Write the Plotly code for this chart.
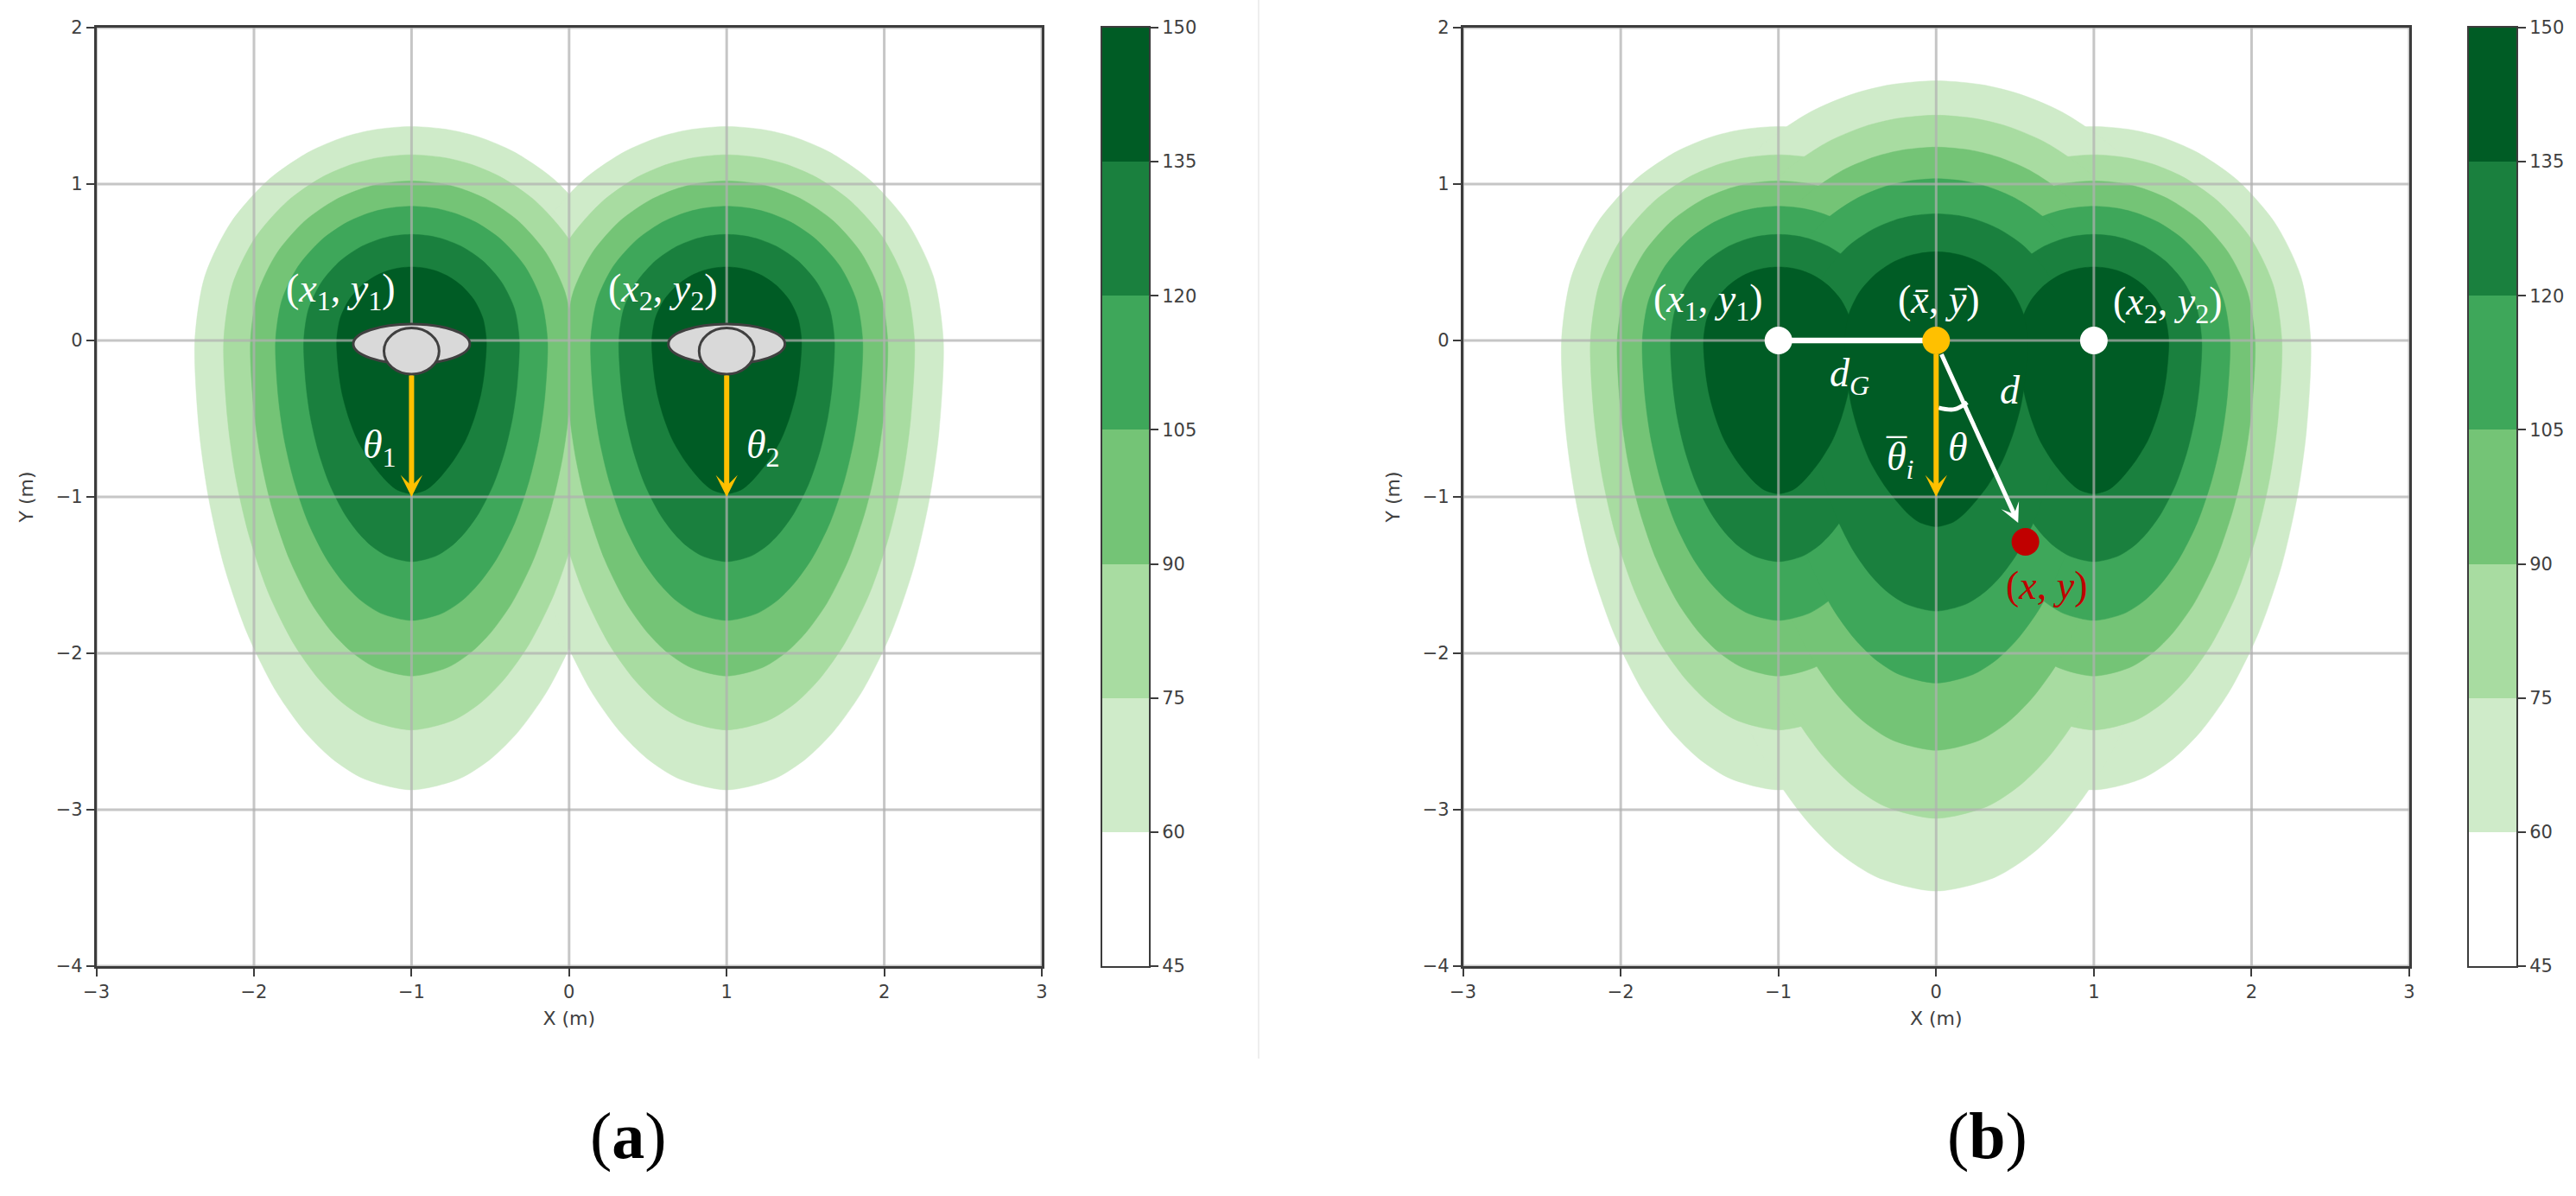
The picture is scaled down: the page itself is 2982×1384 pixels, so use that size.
import plotly.graph_objects as go

W, H = 2982, 1384

# colour bands
LEVELS = [45, 60, 75, 90, 105, 120, 135]
BAND_STEP = [15, 15, 15, 15, 15, 15, 15]
BAND_COLORS = ["#ffffff", "#cfebc9", "#a8dca1", "#74c476", "#3ea75a", "#1a803e", "#005c25"]
CBAR_TICKS = [45, 60, 75, 90, 105, 120, 135, 150]
X_TICKS = [-3, -2, -1, 0, 1, 2, 3]
Y_TICKS = [-4, -3, -2, -1, 0, 1, 2]

# outline of a side lobe: y and half width around the lobe axis
S60_Y = [1.368, 1.347, 1.300, 1.204, 1.026, .752, .410, 0, -.575, -1.006, -1.437, -1.867, -2.241, -2.500, -2.672, -2.801, -2.873]
S60_D = [0, .238, .429, .653, .909, 1.148, 1.312, 1.375, 1.348, 1.288, 1.191, 1.045, .861, .678, .506, .305, 0]
S75_Y = [1.187, 1.169, 1.128, 1.045, .890, .653, .356, 0, -.498, -.872, -1.245, -1.619, -1.942, -2.166, -2.316, -2.428, -2.49]
S75_D = [0, .206, .372, .566, .788, .995, 1.137, 1.192, 1.168, 1.117, 1.032, .906, .746, .588, .439, .265, 0]
S90_Y = [1.02, 1.005, .969, .898, .765, .561, .306, 0, -.429, -.751, -1.073, -1.394, -1.673, -1.866, -1.995, -2.091, -2.145]
S90_D = [0, .177, .319, .485, .676, .853, .975, 1.022, 1.002, .958, .885, .777, .640, .504, .376, .227, 0]
S105_Y = [.858, .845, .815, .755, .644, .472, .257, 0, -.358, -.627, -.895, -1.164, -1.396, -1.557, -1.665, -1.745, -1.79]
S105_D = [0, .149, .269, .410, .570, .721, .823, .863, .846, .809, .747, .656, .540, .425, .318, .192, 0]
S120_Y = [.678, .668, .644, .597, .509, .373, .203, 0, -.283, -.495, -.707, -.919, -1.103, -1.230, -1.315, -1.379, -1.414]
S120_D = [0, .118, .213, .325, .452, .571, .653, .684, .670, .641, .592, .520, .428, .337, .252, .152, 0]
S135_Y = [.47, .463, .447, .414, .353, .259, .141, 0, -.196, -.343, -.49, -.637, -.764, -.853, -.911, -.956, -.98]
S135_D = [0, .082, .148, .226, .314, .397, .453, .475, .463, .440, .400, .343, .268, .200, .147, .090, 0]

# outline of the centre lobe in panel (b)
C60_Y = [1.66, 1.635, 1.577, 1.461, 1.245, .913, .498, 0, -.704, -1.232, -1.76, -2.288, -2.746, -3.062, -3.274, -3.432, -3.52]
C60_D = [0, .290, .524, .797, 1.109, 1.401, 1.601, 1.678, 1.644, 1.572, 1.453, 1.275, 1.050, .827, .618, .373, 0]
C75_Y = [1.44, 1.418, 1.368, 1.267, 1.08, .792, .432, 0, -.611, -1.069, -1.528, -1.986, -2.383, -2.658, -2.841, -2.979, -3.055]
C75_D = [0, .252, .454, .691, .961, 1.214, 1.387, 1.454, 1.425, 1.362, 1.259, 1.105, .910, .717, .535, .323, 0]
C90_Y = [1.236, 1.217, 1.174, 1.088, .927, .680, .371, 0, -.524, -.917, -1.31, -1.703, -2.044, -2.279, -2.437, -2.555, -2.62]
C90_D = [0, .216, .389, .592, .824, 1.041, 1.190, 1.247, 1.222, 1.168, 1.080, .948, .781, .615, .459, .277, 0]
C105_Y = [1.034, 1.018, .982, .910, .776, .569, .310, 0, -.438, -.767, -1.095, -1.424, -1.708, -1.905, -2.037, -2.135, -2.19]
C105_D = [0, .182, .329, .500, .696, .879, 1.005, 1.053, 1.032, .987, .912, .800, .659, .519, .388, .234, 0]
C120_Y = [.81, .798, .770, .713, .608, .446, .243, 0, -.346, -.606, -.865, -1.125, -1.349, -1.505, -1.609, -1.687, -1.73]
C120_D = [0, .144, .260, .396, .551, .696, .796, .834, .817, .781, .722, .634, .522, .411, .307, .185, 0]
C135_Y = [.567, .558, .539, .499, .425, .312, .170, 0, -.238, -.417, -.595, -.774, -.928, -1.035, -1.107, -1.160, -1.19]
C135_D = [0, .100, .181, .276, .383, .484, .553, .58, .565, .537, .488, .418, .327, .244, .179, .110, 0]

SIDE = [(S60_Y, S60_D), (S75_Y, S75_D), (S90_Y, S90_D), (S105_Y, S105_D), (S120_Y, S120_D), (S135_Y, S135_D)]
CENTER = [(C60_Y, C60_D), (C75_Y, C75_D), (C90_Y, C90_D), (C105_Y, C105_D), (C120_Y, C120_D), (C135_Y, C135_D)]
SOURCE_X = [-1, 1]
CENTER_X = 0

# panel (b) points
GROUP_LINE_X = [-1, 0]
GROUP_LINE_Y = [0, 0]
ARC_X = [.016, .115, .197]
ARC_Y = [-.43, -.44, -.396]
WHITE_PTS_X = [-1, 1]
WHITE_PTS_Y = [0, 0]
MID_PT = (0, 0)
TARGET_PT = (.566, -1.287)

GREY = "#3c3c3c"
ORANGE = "#ffc000"
RED = "#c00000"


def px_x(p):
    return p / W


def px_y(p):
    return 1 - p / H


fig = go.Figure()


def lobe(cx, yv, dv, color, ax):
    xs = [cx + d for d in dv] + [cx - d for d in reversed(dv[:-1])]
    ys = list(yv) + list(reversed(yv[:-1]))
    fig.add_trace(go.Scatter(x=xs, y=ys, mode="lines", fill="toself", fillcolor=color,
                             line=dict(color=color, width=0.5, shape="spline", smoothing=0.8),
                             xaxis=ax[0], yaxis=ax[1], hoverinfo="skip", showlegend=False))


AX_A = ("x", "y")
AX_B = ("x2", "y2")
for i, color in enumerate(BAND_COLORS[1:]):
    for cx in SOURCE_X:
        lobe(cx, SIDE[i][0], SIDE[i][1], color, AX_A)
    for cx in SOURCE_X:
        lobe(cx, SIDE[i][0], SIDE[i][1], color, AX_B)
    lobe(CENTER_X, CENTER[i][0], CENTER[i][1], color, AX_B)

# grid above the filled bands, under the markers
GRID = "rgba(176,176,176,0.72)"
for ax in (AX_A, AX_B):
    for v in X_TICKS:
        fig.add_trace(go.Scatter(x=[v, v], y=[Y_TICKS[0], Y_TICKS[-1]], mode="lines",
                                 line=dict(color=GRID, width=3), xaxis=ax[0], yaxis=ax[1],
                                 hoverinfo="skip", showlegend=False))
    for v in Y_TICKS:
        fig.add_trace(go.Scatter(x=[X_TICKS[0], X_TICKS[-1]], y=[v, v], mode="lines",
                                 line=dict(color=GRID, width=3.2), xaxis=ax[0], yaxis=ax[1],
                                 hoverinfo="skip", showlegend=False))

# panel (b) lines and markers
fig.add_trace(go.Scatter(x=GROUP_LINE_X, y=GROUP_LINE_Y, mode="lines", line=dict(color="white", width=6.5),
                         xaxis="x2", yaxis="y2", hoverinfo="skip", showlegend=False))
fig.add_trace(go.Scatter(x=ARC_X, y=ARC_Y, mode="lines", line=dict(color="white", width=5, shape="spline"),
                         xaxis="x2", yaxis="y2", hoverinfo="skip", showlegend=False))
fig.add_trace(go.Scatter(x=WHITE_PTS_X, y=WHITE_PTS_Y, mode="markers", marker=dict(color="white", size=32),
                         xaxis="x2", yaxis="y2", hoverinfo="skip", showlegend=False))
fig.add_trace(go.Scatter(x=[TARGET_PT[0]], y=[TARGET_PT[1]], mode="markers", marker=dict(color=RED, size=32),
                         xaxis="x2", yaxis="y2", hoverinfo="skip", showlegend=False))

# colour bars
for xa, ya in (("x3", "y3"), ("x4", "y4")):
    fig.add_trace(go.Bar(x=[0] * len(LEVELS), y=BAND_STEP, base=LEVELS, width=1,
                         marker=dict(color=BAND_COLORS, line=dict(width=0)),
                         xaxis=xa, yaxis=ya, hoverinfo="skip", showlegend=False))

TICKFONT = dict(family="DejaVu Sans", size=21, color="#404040")
TITLEFONT = dict(family="DejaVu Sans", size=22, color="#404040")


def main_x(dom, anchor, title="X (m)"):
    return dict(domain=dom, range=[-3, 3], tickvals=X_TICKS, showgrid=False, zeroline=False, showline=True,
                mirror=True, linecolor=GREY, linewidth=2.5, ticks="outside", ticklen=9, tickwidth=2, tickcolor=GREY,
                tickfont=TICKFONT, anchor=anchor, automargin=False, title=dict(text=title, font=TITLEFONT, standoff=12))


def main_y(dom, anchor, title="Y (m)"):
    return dict(domain=dom, range=[-4, 2], tickvals=Y_TICKS, showgrid=False, zeroline=False, showline=True,
                mirror=True, linecolor=GREY, linewidth=2.5, ticks="outside", ticklen=9, tickwidth=2, tickcolor=GREY,
                tickfont=TICKFONT, anchor=anchor, automargin=False, title=dict(text=title, font=TITLEFONT, standoff=20))


def bar_x(dom, anchor):
    return dict(domain=dom, range=[-.5, .5], showticklabels=False, ticks="", showgrid=False, zeroline=False,
                showline=True, mirror=True, linecolor=GREY, linewidth=2, anchor=anchor, automargin=False)


def bar_y(dom, anchor):
    return dict(domain=dom, range=[45, 150], tickvals=CBAR_TICKS, side="right", showgrid=False, zeroline=False,
                showline=True, mirror=True, linecolor=GREY, linewidth=2, ticks="outside", ticklen=9, tickwidth=2,
                tickcolor=GREY, tickfont=TICKFONT, anchor=anchor, automargin=False)


Y_DOM = [px_y(1118), px_y(32)]

# icons and labels
shapes = []
for cx, (xr, yr) in ((-1, ("x", "y")), (1, ("x", "y"))):
    shapes.append(dict(type="circle", xref=xr, yref=yr, x0=cx - .37, x1=cx + .37, y0=-.15, y1=.105,
                       fillcolor="#d9d9d9", line=dict(color="#404040", width=3)))
    shapes.append(dict(type="circle", xref=xr, yref=yr, x0=cx - .175, x1=cx + .175, y0=-.215, y1=.08,
                       fillcolor="#d9d9d9", line=dict(color="#404040", width=3)))

# separator between the panels
shapes.append(dict(type="line", xref="paper", yref="paper", x0=px_x(1457), x1=px_x(1457), y0=px_y(1225), y1=1,
                   line=dict(color="#eeeeee", width=2)))

MATH = "Liberation Serif"


def label(text, x, y, ax="x", ay="y", color="white", size=46):
    return dict(text=text, x=x, y=y, xref=ax, yref=ay, showarrow=False, xanchor="center", yanchor="middle",
                font=dict(family=MATH, size=size, color=color))


def arrow(x0, y0, x1, y1, color, width, head, ax="x", ay="y", size=1.0):
    return dict(text="", x=x1, y=y1, ax=x0, ay=y0, xref=ax, yref=ay, axref=ax, ayref=ay, showarrow=True,
                arrowhead=head, arrowsize=size, arrowwidth=width, arrowcolor=color, standoff=0, startstandoff=0)


P1 = "(<i>x</i><sub>1</sub>, <i>y</i><sub>1</sub>)"
P2 = "(<i>x</i><sub>2</sub>, <i>y</i><sub>2</sub>)"
annotations = [
    label(P1, -1.45, .315), label(P2, .595, .315),
    label("<i>θ</i><sub>1</sub>", -1.2, -.685), label("<i>θ</i><sub>2</sub>", 1.23, -.685),
    arrow(-1, -.215, -1, -1, ORANGE, 6, 3, size=.7),
    arrow(1, -.215, 1, -1, ORANGE, 6, 3, size=.7),
    label(P1, -1.445, .25, "x2", "y2"), label("(<i>x̄</i>, <i>ȳ</i>)", .016, .265, "x2", "y2"),
    label(P2, 1.47, .23, "x2", "y2"),
    label("<i>d</i><sub><i>G</i></sub>", -.55, -.225, "x2", "y2"),
    label("<i>d</i>", .467, -.32, "x2", "y2"),
    label("<i>θ</i>", .137, -.68, "x2", "y2"),
    label("<i>θ</i><sub><i>i</i></sub>", -.225, -.76, "x2", "y2"),
    label("¯", -.25, -.72, "x2", "y2"),
    label("(<i>x</i>, <i>y</i>)", .70, -1.565, "x2", "y2", RED),
    arrow(0, -.08, 0, -1, ORANGE, 6, 3, "x2", "y2", .7),
    arrow(.03, -.08, .52, -1.166, "white", 5, 3, "x2", "y2", .75),
    dict(text="(<b>a</b>)", x=px_x(727), y=px_y(1314), xref="paper", yref="paper", showarrow=False,
         xanchor="center", yanchor="middle", font=dict(family=MATH, size=76, color="black")),
    dict(text="(<b>b</b>)", x=px_x(2300), y=px_y(1314), xref="paper", yref="paper", showarrow=False,
         xanchor="center", yanchor="middle", font=dict(family=MATH, size=76, color="black")),
]

fig.update_layout(
    width=W, height=H, margin=dict(l=0, r=0, t=0, b=0), paper_bgcolor="white", plot_bgcolor="white",
    barmode="overlay", bargap=0, showlegend=False,
    xaxis=main_x([px_x(111.6), px_x(1206)], "y"), yaxis=main_y(Y_DOM, "x"),
    xaxis2=main_x([px_x(1693.6), px_x(2789)], "y2"), yaxis2=main_y(Y_DOM, "x2"),
    xaxis3=bar_x([px_x(1276), px_x(1330)], "y3"), yaxis3=bar_y(Y_DOM, "x3"),
    xaxis4=bar_x([px_x(2858), px_x(2913)], "y4"), yaxis4=bar_y(Y_DOM, "x4"),
    shapes=shapes, annotations=annotations,
)

# the orange group marker sits above its arrows: a shape in the second panel
fig.add_shape(type="circle", xref="x2", yref="y2", xsizemode="pixel", ysizemode="pixel",
              xanchor=MID_PT[0], yanchor=MID_PT[1], x0=-16, x1=16, y0=-16, y1=16,
              fillcolor=ORANGE, line=dict(width=0))

fig.write_html("out.html", config={"displayModeBar": False},
               post_script="document.body.style.margin='0';document.body.style.overflow='hidden';")
